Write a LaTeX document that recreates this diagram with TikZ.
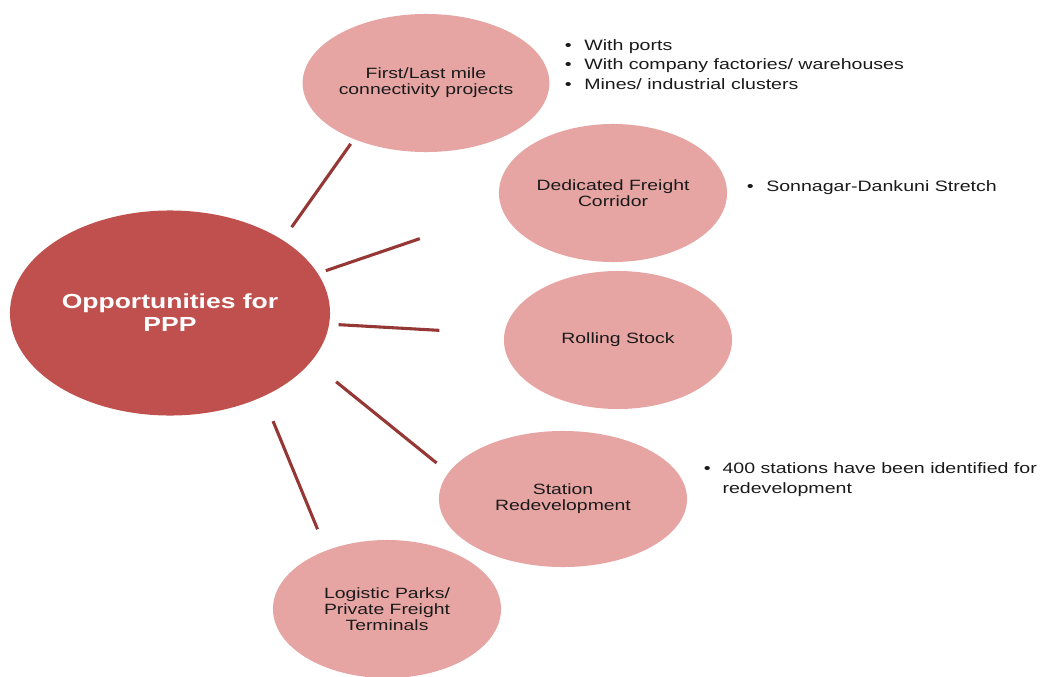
\documentclass[tikz,border=0pt]{standalone}
\usepackage{fontspec}
\setmainfont{Liberation Sans}[FakeStretch=1.3]
\usetikzlibrary{shapes.geometric}
\usepackage{xcolor}
\definecolor{hub-color}{HTML}{C0504D}
\definecolor{spoke-color}{HTML}{E6A5A3}
\definecolor{link-color}{HTML}{953735}
\definecolor{note-color}{HTML}{1A1A1A}

\begin{document}
\begin{tikzpicture}[x=0.025cm, y=-0.025cm]

\fill[white] (0,0) rectangle (1042,677);
\useasboundingbox (0,0) rectangle (1042,677);

\begin{scope}[every node/.style={ellipse, fill=spoke-color, inner sep=0pt, align=center, text=note-color, font=\fontsize{10.6}{11.4}\selectfont, minimum width=5.7cm, minimum height=3.45cm}]

\node(n0)[fill=hub-color, text=white, minimum width=8cm, minimum height=5.125cm, font=\fontsize{14.5}{16.4}\selectfont\bfseries] at (170,313) {Opportunities for\\PPP};

\node(n1) at (426,83)  {First/Last mile\\connectivity projects};
\node(n2) at (613,193) {Dedicated Freight\\Corridor};
\node(n3) at (618,340) {Rolling Stock};
\node(n4)[minimum width=6.2cm, minimum height=3.4cm] at (563,499) {Station\\Redevelopment};
\node(n5) at (387,609) {Logistic Parks/\\Private Freight\\Terminals};
\end{scope}

\begin{scope}[line width=2.2pt, link-color]
\draw[shorten <=0.39cm, shorten >=0.14cm] (n0.33)  -- (n1.218);
\draw[shorten <=0.21cm, shorten >=2.18cm] (n0.15)  -- (n2.189);
\draw[shorten <=0.23cm, shorten >=1.62cm] (n0.356) -- (n3.177);
\draw[shorten <=0.80cm, shorten >=0.38cm] (n0.341) -- (n4.167);
\draw[shorten <=0.66cm, shorten >=0.57cm] (n0.318) -- (n5.136);
\end{scope}

\begin{scope}[every node/.style={anchor=west, inner sep=0pt, text=note-color, font=\fontsize{10.7}{13.9}\selectfont}]
\node(t1) at (564.5,66) {\begin{tabular}{@{}l@{\hspace{9pt}}l@{}}
\textbullet & With ports\\
\textbullet & With company factories/ warehouses\\
\textbullet & Mines/ industrial clusters
\end{tabular}};
\node(t2) at (746.5,188) {\begin{tabular}{@{}l@{\hspace{9pt}}l@{}}
\textbullet & Sonnagar-Dankuni Stretch
\end{tabular}};
\node(t3) at (703.5,479.5) {\begin{tabular}{@{}l@{\hspace{8.5pt}}l@{}}
\textbullet & 400 stations have been identified for\\
 & redevelopment
\end{tabular}};
\end{scope}

\end{tikzpicture}
\end{document}
